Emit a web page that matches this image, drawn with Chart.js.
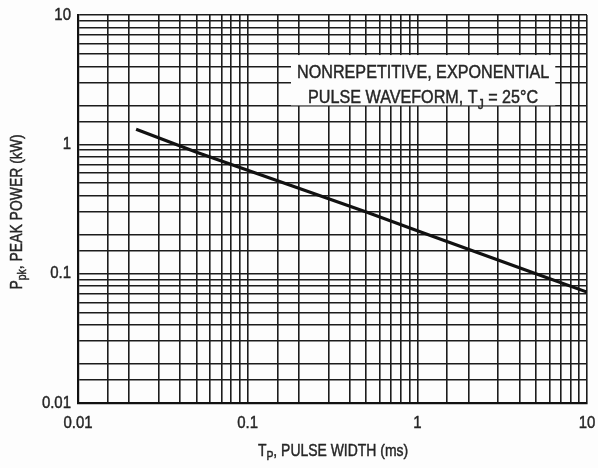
<!DOCTYPE html>
<html>
<head>
<meta charset="utf-8">
<script src="https://cdn.jsdelivr.net/npm/chart.js@4/dist/chart.umd.min.js"></script>
<style>
  html, body { margin: 0; padding: 0; background: #fdfdfd; }
  #wrap { width: 598px; height: 468px; }
</style>
</head>
<body>
<div id="wrap"><canvas id="chart"></canvas></div>
<script>
// pulse rating curve
var pulseWidth = [0.022, 0.05, 0.1, 0.5, 1, 5, 10];      // ms
var peakPower = [1.31, 0.87, 0.63, 0.30, 0.215, 0.10, 0.072]; // kW

// axis decades and their labels
var xDecades = [0.01, 0.1, 1, 10];
var xTickLabels = ["0.01", "0.1", "1", "10"];
var yDecades = [0.01, 0.1, 1, 10];
var yTickLabels = ["0.01", "0.1", "1", "10"];
// grid lines inside each decade
var gridSteps = [1, 1.5, 2, 3, 4, 5, 6, 7, 8, 9];

function gridValues(decades) {
  var out = [];
  for (var i = 0; i < decades.length - 1; i++) {
    for (var j = 0; j < gridSteps.length; j++) out.push(decades[i] * gridSteps[j]);
  }
  out.push(decades[decades.length - 1]);
  return out;
}

var FONT = '"Liberation Sans", Arial, sans-serif';
var INK = "#262626";

// draw text made of parts, some of them subscript; squeezed sideways by sx
function partsWidth(ctx, parts, size) {
  var w = 0;
  parts.forEach(function (p) {
    ctx.font = (p.sub ? size * 0.75 : size) + "px " + FONT;
    w += ctx.measureText(p.t).width;
  });
  return w;
}
function drawParts(ctx, parts, x, y, size, sx, align) {
  var w = partsWidth(ctx, parts, size) * sx;
  var start = align === "center" ? x - w / 2 : (align === "right" ? x - w : x);
  ctx.save();
  ctx.translate(start, y);
  ctx.scale(sx, 1);
  ctx.fillStyle = INK;
  ctx.strokeStyle = INK;
  ctx.lineWidth = 0.45; // scan looks a bit heavier than plain regular
  ctx.textBaseline = "middle";
  ctx.textAlign = "left";
  var cx = 0;
  parts.forEach(function (p) {
    var s = p.sub ? size * 0.75 : size;
    ctx.font = s + "px " + FONT;
    var dy = p.sub ? size * 0.35 : 0;
    ctx.fillText(p.t, cx, dy);
    ctx.strokeText(p.t, cx, dy);
    cx += ctx.measureText(p.t).width;
  });
  ctx.restore();
}

var textPlugin = {
  id: "texts",
  beforeDatasetsDraw: function (chart) {
    // white note box over the grid
    var ctx = chart.ctx, xs = chart.scales.x, ys = chart.scales.y;
    var l = xs.getPixelForValue(0.18), r = xs.getPixelForValue(6.5);
    var t = ys.getPixelForValue(4.9), b = ys.getPixelForValue(2);
    ctx.save();
    ctx.fillStyle = "#fdfdfd";
    ctx.fillRect(l, t, r - l, b - t);
    ctx.restore();
    var cx = (l + r) / 2;
    drawParts(ctx, [{ t: "NONREPETITIVE, EXPONENTIAL" }], cx, t + 18, 19, 0.85, "center");
    drawParts(ctx, [{ t: "PULSE WAVEFORM, T" }, { t: "J", sub: true }, { t: " = 25\u00B0C" }], cx, t + 43, 19, 0.85, "center");
  },
  afterDraw: function (chart) {
    var ctx = chart.ctx, xs = chart.scales.x, ys = chart.scales.y, a = chart.chartArea;
    // tick labels at decades
    xDecades.forEach(function (v, i) {
      drawParts(ctx, [{ t: xTickLabels[i] }], xs.getPixelForValue(v), a.bottom + 20, 17, 0.88, "center");
    });
    yDecades.forEach(function (v, i) {
      drawParts(ctx, [{ t: yTickLabels[i] }], a.left - 7, ys.getPixelForValue(v), 17, 0.88, "right");
    });
    // axis titles
    drawParts(ctx, [{ t: "T" }, { t: "P", sub: true }, { t: ", PULSE WIDTH (ms)" }], 333, 451, 17, 0.82, "center");
    ctx.save();
    ctx.translate(17, 212);
    ctx.rotate(-Math.PI / 2);
    drawParts(ctx, [{ t: "P" }, { t: "pk", sub: true }, { t: ", PEAK POWER (kW)" }], 0, 0, 17, 0.82, "center");
    ctx.restore();
  }
};

var points = pulseWidth.map(function (x, i) { return { x: x, y: peakPower[i] }; });

var gridStyle = { color: "#1c1c1c", lineWidth: 1.6, drawTicks: false };

new Chart(document.getElementById("chart"), {
  type: "line",
  data: {
    datasets: [{
      data: points,
      borderColor: "#111",
      borderWidth: 3.2,
      pointRadius: 0,
      tension: 0,
      fill: false
    }]
  },
  options: {
    responsive: true,
    maintainAspectRatio: false,
    animation: false,
    layout: { padding: { top: 15, right: 11, left: 0, bottom: 0 } },
    plugins: { legend: { display: false }, tooltip: { enabled: false } },
    scales: {
      x: {
        type: "logarithmic",
        min: 0.01,
        max: 10,
        grid: gridStyle,
        border: { color: "#111", width: 2.2 },
        ticks: { display: false, autoSkip: false },
        afterBuildTicks: function (s) {
          s.ticks = gridValues(xDecades).map(function (v) { return { value: v }; });
        },
        afterFit: function (s) { s.height = 65; }
      },
      y: {
        type: "logarithmic",
        min: 0.01,
        max: 10,
        grid: gridStyle,
        border: { color: "#111", width: 2.2 },
        ticks: { display: false, autoSkip: false },
        afterBuildTicks: function (s) {
          s.ticks = gridValues(yDecades).map(function (v) { return { value: v }; });
        },
        afterFit: function (s) { s.width = 78; }
      }
    }
  },
  plugins: [textPlugin]
});
</script>
</body>
</html>
